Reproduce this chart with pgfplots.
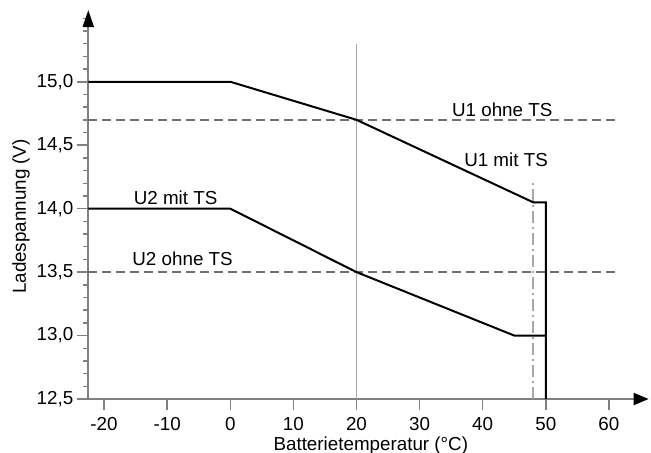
\documentclass[border=0pt]{standalone}
\usepackage{fontspec}
\setmainfont{Liberation Sans}
\usepackage{pgfplots}
\pgfplotsset{compat=1.18}
\usetikzlibrary{arrows.meta}
\definecolor{axgray}{HTML}{808080}
\definecolor{dashgray}{HTML}{707070}
\definecolor{vgray}{HTML}{A8A8A8}
\begin{document}
\begin{tikzpicture}
\begin{axis}[
    at={(0,0)}, anchor=south west,
    x=3.155pt, y=63.45pt,
    xmin=-22.5, xmax=66.3,
    ymin=12.5, ymax=15.565,
    enlargelimits=false,
    clip=false,
    axis lines=left,
    axis line style={axgray, line width=1pt},
    x axis line style={-{Triangle[length=7.5pt,width=6pt,color=black]}},
    y axis line style={-{Triangle[length=8.5pt,width=5.5pt,color=black]}},
    xtick={-20,-10,...,60},
    ytick={12.5,13,...,15},
    minor ytick={12.6,12.7,...,15.45},
    tick align=outside,
    xtick align=outside, ytick align=outside,
    major tick length=5.5pt,
    minor tick length=2.5pt,
    tick style={axgray, line width=0.75pt},
    font=\fontsize{9.4}{11.3}\selectfont,
    /pgf/number format/assume math mode=true,
    yticklabel style={xshift=1.5pt, /pgf/number format/.cd, fixed, fixed zerofill, precision=1, use comma},
    xlabel={Batterietemperatur (°C)},
    xlabel style={at={(axis cs:22.27,12.093)}, anchor=base},
    ylabel={Ladespannung (V)},
    ylabel style={at={(axis cs:-32.41,13.938)}, anchor=base, rotate=0},
]
    % reference lines
    \addplot[vgray, line width=0.75pt] coordinates {(20,12.5) (20,15.30)};
    \addplot[vgray, line width=0.75pt, dash pattern=on 6pt off 2pt on 1pt off 2pt] coordinates {(48,12.5) (48,14.21)};
    % without temperature sensor
    \addplot[dashgray, line width=1pt, dash pattern=on 4.5pt off 2.5pt] coordinates {(-22.5,14.7) (61.3,14.7)};
    \addplot[dashgray, line width=1pt, dash pattern=on 4.5pt off 2.5pt] coordinates {(-22.5,13.5) (61.3,13.5)};
    % with temperature sensor
    \addplot[black, line width=1pt] coordinates {
        (-22.5,15.0) (0,15.0) (20,14.7) (48,14.05) (50,14.05) (50,12.5)
    };
    \addplot[black, line width=1pt] coordinates {
        (-22.5,14.0) (0,14.0) (20,13.5) (45,13.0) (50,13.0)
    };
    \node[anchor=base] at (axis cs:43.1,14.73) {U1 ohne TS};
    \node[anchor=base] at (axis cs:43.7,14.33) {U1 mit TS};
    \node[anchor=base] at (axis cs:-8.67,14.03) {U2 mit TS};
    \node[anchor=base] at (axis cs:-7.56,13.556) {U2 ohne TS};
\end{axis}
\pgfresetboundingbox
\path[use as bounding box] (-44.15pt,-26.5pt) rectangle (281.35pt,199.5pt);
\end{tikzpicture}
\end{document}
